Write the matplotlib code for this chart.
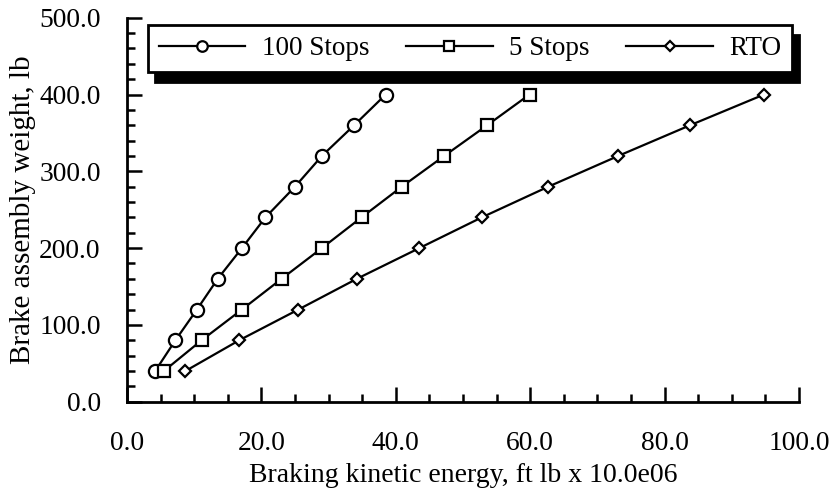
import matplotlib.pyplot as plt
from matplotlib.ticker import MultipleLocator, FormatStrFormatter

plt.rcParams['font.family'] = ['Liberation Serif', 'DejaVu Serif']

weight = [40, 80, 120, 160, 200, 240, 280, 320, 360, 400]
energy_100 = [4.2, 7.2, 10.4, 13.5, 17.1, 20.6, 25.0, 29.0, 33.8, 38.5]
energy_5 = [5.5, 11.1, 17.1, 23.0, 29.0, 34.9, 40.9, 47.2, 53.6, 59.9]
energy_rto = [8.7, 16.7, 25.5, 34.2, 43.5, 52.8, 62.7, 73.1, 83.8, 94.8]

fig = plt.figure(figsize=(8.34, 4.95), dpi=100)
ax = fig.add_axes([0.1523, 0.1885, 0.8057, 0.7757])

style = dict(color='black', lw=1.6, mfc='white', mec='black', mew=1.6)
ax.plot(energy_100, weight, marker='o', ms=9.5, label='100 Stops', **style)
ax.plot(energy_5, weight, marker='s', ms=8.5, label='5 Stops', **style)
ax.plot(energy_rto, weight, marker='D', ms=6.5, label='RTO', **style)

ax.set_xlim(0, 100)
ax.set_ylim(0, 500)
ax.xaxis.set_major_locator(MultipleLocator(20))
ax.xaxis.set_minor_locator(MultipleLocator(5))
ax.yaxis.set_major_locator(MultipleLocator(100))
ax.yaxis.set_minor_locator(MultipleLocator(20))
ax.xaxis.set_major_formatter(FormatStrFormatter('%.1f'))
ax.yaxis.set_major_formatter(FormatStrFormatter('%.1f'))

for side in ['top', 'right']:
    ax.spines[side].set_visible(False)
for side in ['left', 'bottom']:
    ax.spines[side].set_linewidth(2)
ax.tick_params(which='major', direction='in', length=11, width=1.8, labelsize=19.8)
ax.tick_params(which='minor', direction='in', length=5.5, width=1.8)
ax.tick_params(axis='x', which='major', pad=21)
ax.tick_params(axis='y', which='major', pad=19)

ax.set_xlabel('Braking kinetic energy, ft lb x 10.0e06', fontsize=20, labelpad=5)
ax.set_ylabel('Brake assembly weight, lb', fontsize=21, labelpad=2)

leg = ax.legend(loc='lower left', bbox_to_anchor=(0.031, 0.859, 0.959, 0.141),
                mode='expand', ncol=3, borderaxespad=0, fontsize=19.5,
                handlelength=3.2, handletextpad=0.6,
                markerscale=0.8, fancybox=False, frameon=True, framealpha=1,
                edgecolor='black',
                shadow={'color': 'black', 'alpha': 1, 'ox': 5, 'oy': -7})
leg.get_frame().set_linewidth(2)

fig.savefig('out.png', dpi=100)
